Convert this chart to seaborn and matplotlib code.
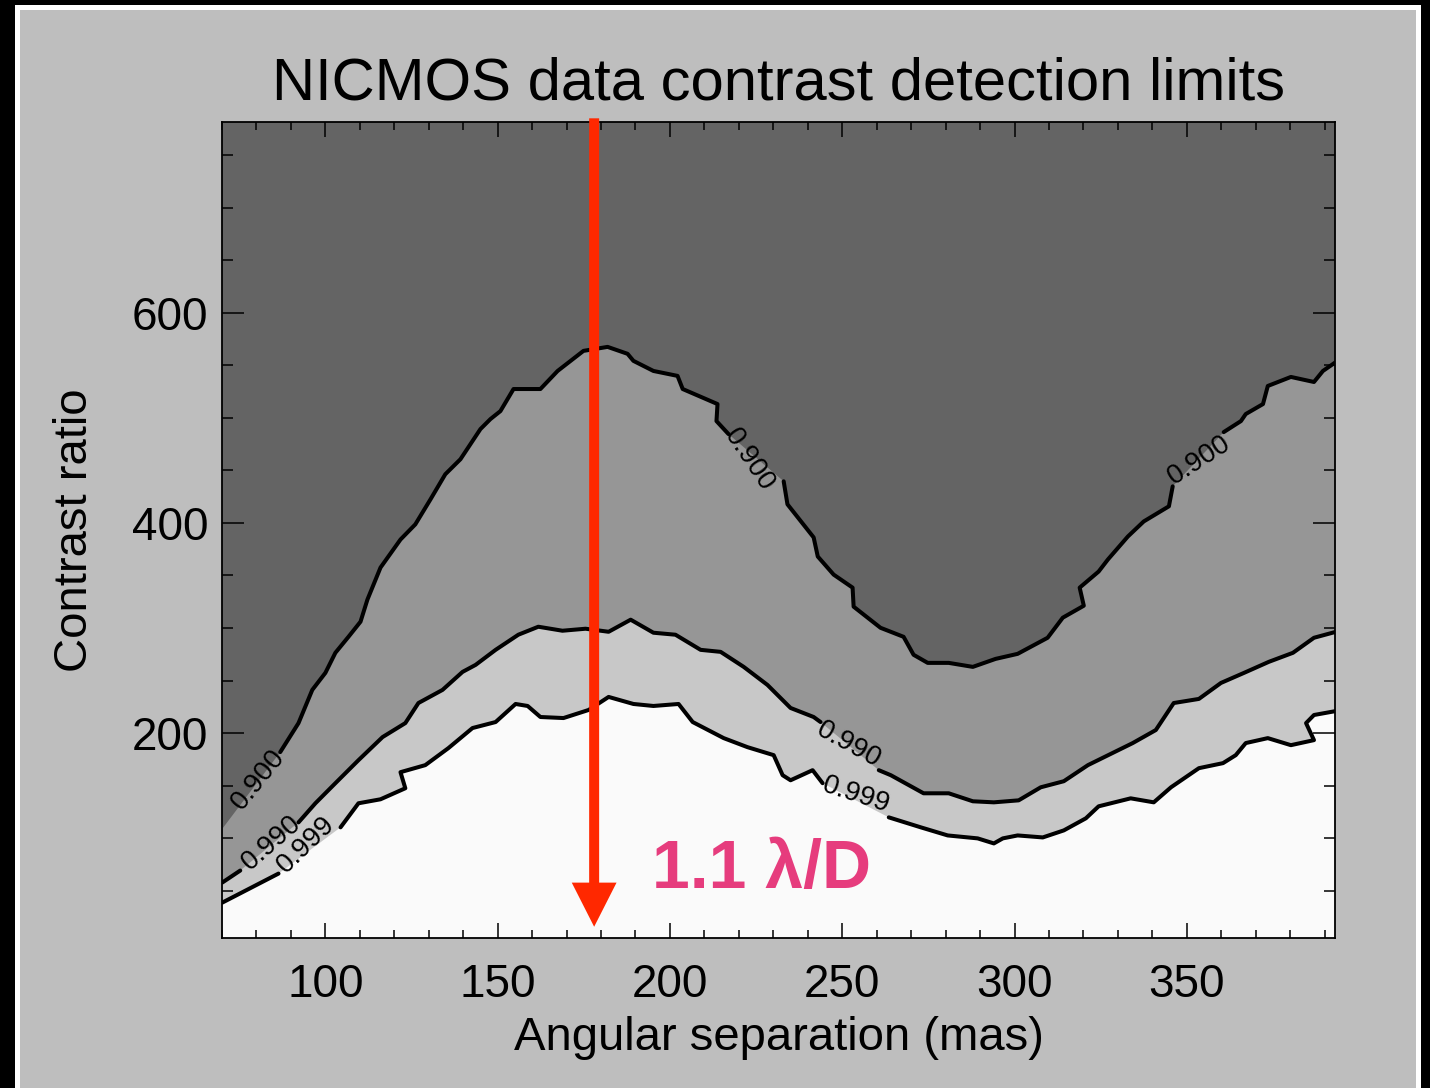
import numpy as np
import pandas as pd
import matplotlib
matplotlib.use("Agg")
import matplotlib.pyplot as plt
from matplotlib.patches import Rectangle
from matplotlib.ticker import MultipleLocator
import seaborn as sns

# ---------------- data ----------------
levels = ["0.900", "0.990", "0.999"]

c900_x = [70.1, 86.9, 92.2, 96.2, 100.0, 102.9, 106.7, 110.2, 112.2, 116.0, 121.8, 126.1,
          130.5, 134.8, 139.2, 145.0, 147.9, 150.8, 154.6, 162.4, 167.4, 174.9, 181.9,
          187.7, 189.4, 195.2, 202.2, 203.7, 213.8, 213.5, 217.0, 233.0, 234.1, 241.7,
          242.9, 247.5, 253.0, 253.3, 261.1, 267.8, 270.7, 274.8, 280.9, 287.9, 294.5,
          300.9, 309.6, 314.0, 320.1, 318.9, 324.4, 327.1, 332.9, 337.5, 344.8, 345.9,
          360.7, 365.7, 367.1, 372.1, 373.5, 380.2, 386.9, 389.5, 393.3]
c900_y = [109.0, 181.9, 209.5, 241.1, 257.3, 276.4, 291.6, 306.0, 327.0, 357.5, 384.2, 398.6,
          422.4, 446.3, 460.6, 489.3, 498.8, 506.4, 527.4, 527.4, 544.6, 563.7, 567.5,
          560.9, 554.2, 544.6, 539.9, 527.4, 513.1, 496.9, 484.5, 439.6, 417.7, 386.2,
          368.0, 350.8, 338.4, 320.3, 300.2, 291.6, 274.5, 266.8, 266.8, 263.0, 270.6,
          275.4, 290.7, 309.8, 321.2, 338.4, 353.7, 365.2, 387.1, 401.4, 415.8, 434.8,
          486.4, 496.9, 503.6, 513.1, 530.3, 538.9, 534.1, 544.6, 553.2]

c990_x = [70.1, 75.3, 92.2, 97.1, 102.9, 109.6, 116.6, 123.2, 127.0, 134.0, 139.8, 143.6,
          149.4, 156.0, 161.8, 168.8, 175.5, 182.2, 188.6, 195.2, 201.6, 208.9, 214.7,
          221.4, 228.3, 235.0, 241.7, 243.7, 260.6, 264.1, 273.6, 280.9, 287.9, 294.0,
          301.2, 307.6, 314.3, 321.3, 334.3, 341.0, 346.2, 353.5, 359.9, 366.6, 373.8,
          380.8, 386.9, 393.3]
c990_y = [57.8, 69.2, 115.0, 133.2, 152.3, 174.2, 196.2, 209.5, 228.6, 241.1, 258.2, 264.9,
          279.2, 293.6, 301.2, 297.4, 299.3, 296.4, 307.9, 295.5, 293.6, 279.2, 277.3,
          263.0, 245.8, 223.9, 215.3, 210.5, 164.7, 159.9, 142.7, 142.7, 135.1, 134.1,
          136.0, 148.4, 154.2, 169.5, 190.5, 202.9, 228.6, 232.5, 247.7, 257.3, 267.8,
          276.4, 290.7, 296.4]

c999_x = [70.1, 86.4, 104.4, 109.6, 116.0, 123.2, 121.8, 129.0, 135.7, 142.7, 149.4, 155.2,
          158.7, 162.4, 169.1, 176.4, 182.2, 189.4, 195.2, 202.5, 206.6, 215.6, 222.5,
          230.1, 232.7, 235.0, 241.4, 244.3, 263.5, 272.8, 280.6, 289.3, 294.0, 296.6,
          300.9, 308.2, 314.3, 320.7, 324.4, 333.7, 340.4, 345.4, 353.5, 360.5, 364.2,
          367.1, 373.5, 380.2, 386.9, 384.6, 386.9, 393.3]
c999_y = [38.7, 66.3, 110.3, 133.2, 137.0, 147.5, 162.8, 169.5, 185.7, 204.8, 210.5, 227.7,
          225.8, 215.3, 214.3, 222.0, 234.4, 227.7, 225.8, 227.7, 210.5, 195.2, 186.6,
          179.0, 159.9, 155.1, 164.7, 152.3, 119.8, 110.3, 102.6, 99.8, 95.0, 99.8,
          102.6, 100.7, 107.4, 118.9, 130.3, 137.9, 134.1, 148.4, 166.6, 171.4, 179.0,
          190.5, 195.2, 188.5, 193.3, 209.5, 217.2, 221.0]

# contour label positions: level, x, y
label_level = ["0.900", "0.990", "0.999", "0.900", "0.990", "0.999", "0.900"]
label_x = [80.6, 84.4, 94.5, 223.1, 251.9, 253.9, 353.5]
label_y = [155.6, 95.8, 93.9, 460.0, 188.9, 141.3, 460.0]
label_rot = [51, 41, 44, -56, -29, -18, 33]

arrow_x = 178.0
arrow_y_start = 785.0
arrow_y_end = 15.7

xticks = [100, 150, 200, 250, 300, 350]
yticks = [200, 400, 600]

# ---------------- styling ----------------
sns.set_style("white")
plt.rcParams["font.family"] = ["Liberation Sans", "DejaVu Sans"]

fig = plt.figure(figsize=(14.3, 10.88), dpi=100)
fig.patch.set_facecolor("black")
W, H = 1430, 1088
fig.patches.append(Rectangle((15 / W, 0), (1421 - 15) / W, (H - 5) / H,
                             transform=fig.transFigure, facecolor="white",
                             edgecolor="none", zorder=-10))
fig.patches.append(Rectangle((20 / W, 0), (1416 - 20) / W, (H - 10) / H,
                             transform=fig.transFigure, facecolor="#bebebe",
                             edgecolor="none", zorder=-9))

ax = fig.add_axes([222 / W, 1 - 938 / H, (1335 - 222) / W, (938 - 122) / H])
ax.set_axisbelow(False)
ax.set_facecolor("#646464")
ax.set_xlim(70.0, 393.0)
ax.set_ylim(5.0, 781.5)

curves = {"0.900": (c900_x, c900_y), "0.990": (c990_x, c990_y), "0.999": (c999_x, c999_y)}
fills = {"0.900": "#969696", "0.990": "#c8c8c8", "0.999": "#fafafa"}

for lev in levels:
    x, y = curves[lev]
    px = np.r_[x, x[-1], x[0]]
    py = np.r_[y, -100.0, -100.0]
    ax.fill(px, py, color=fills[lev], lw=0, zorder=1)

fig.canvas.draw()
trans = ax.transData

for lev in levels:
    x = np.asarray(curves[lev][0], float)
    y = np.asarray(curves[lev][1], float)
    pts = trans.transform(np.c_[x, y])
    mids = 0.5 * (pts[:-1] + pts[1:])
    gaps = set()
    for L, lx, ly in zip(label_level, label_x, label_y):
        if L != lev:
            continue
        p = trans.transform((lx, ly))
        d = np.hypot(*(mids - p).T)
        gaps.add(int(np.argmin(d)))
    start = 0
    cuts = sorted(gaps)
    for g in cuts + [len(x) - 1]:
        seg = pd.DataFrame({"x": x[start:g + 1], "y": y[start:g + 1]})
        if len(seg) > 1:
            sns.lineplot(data=seg, x="x", y="y", sort=False, estimator=None,
                         color="black", lw=2.9, ax=ax, zorder=2)
        start = g + 1

for L, lx, ly, r in zip(label_level, label_x, label_y, label_rot):
    ax.text(lx, ly, L, rotation=r, rotation_mode="anchor", ha="center", va="center",
            fontsize=20, color="black", zorder=3)

ax.arrow(arrow_x, arrow_y_start, 0, arrow_y_end - arrow_y_start, width=2.9,
         head_width=13.0, head_length=42.0, length_includes_head=True,
         color="#ff2800", lw=0, zorder=6, clip_on=False)

ax.text(226.6, 69.5, "1.1 λ/D", color="#e63c7d", fontsize=49, fontweight="bold",
        ha="center", va="center", zorder=5)

ax.set_xticks(xticks)
ax.set_yticks(yticks)
ax.xaxis.set_minor_locator(MultipleLocator(10))
ax.yaxis.set_minor_locator(MultipleLocator(50))
ax.tick_params(which="both", direction="in", top=True, right=True, bottom=True, left=True,
               color="black", width=1.1, labelcolor="black")
ax.tick_params(axis="x", which="major", length=10.8, labelsize=33, pad=18)
ax.tick_params(axis="x", which="minor", length=5.8)
ax.tick_params(axis="y", which="major", length=15.8, labelsize=33, pad=10)
ax.tick_params(axis="y", which="minor", length=8)
for s in ax.spines.values():
    s.set_color("black")
    s.set_linewidth(1.3)
    s.set_visible(True)
    s.set_zorder(4)

ax.set_xlabel("Angular separation (mas)", fontsize=34, color="black")
ax.set_ylabel("Contrast ratio", fontsize=34, color="black")
ax.xaxis.set_label_coords(0.5, (938 - 1016) / 816)
ax.yaxis.set_label_coords((97 - 222) / 1113, 0.5)
ax.set_title("NICMOS data contrast detection limits", fontsize=43, color="black", pad=16)

fig.savefig("out.png", dpi=100, facecolor=fig.get_facecolor())
